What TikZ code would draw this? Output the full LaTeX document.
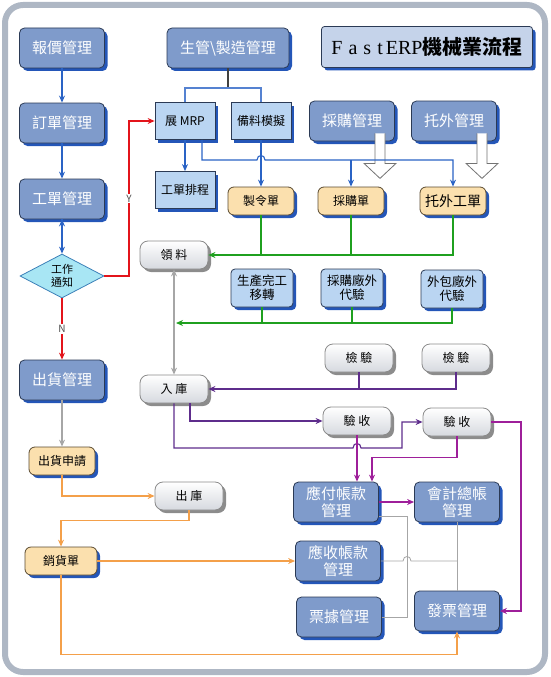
\documentclass[tikz,border=0pt]{standalone}
\usepackage{fontspec}
\setmainfont{Noto Sans CJK TC}
\newfontfamily\titlelatin{Liberation Serif}
\newfontfamily\titlespaced[LetterSpace=30]{Liberation Serif}
\usetikzlibrary{shapes.geometric,shadows,calc,arrows.meta}

\definecolor{manageblue}{HTML}{7F9BCB}
\definecolor{boxedge}{HTML}{2B3A55}
\definecolor{shadowblue}{HTML}{2456B8}
\definecolor{taskblue}{HTML}{BAD5F2}
\definecolor{docpeach}{HTML}{FBE0AE}
\definecolor{docedge}{HTML}{5A4A30}
\definecolor{storegray}{HTML}{D6D9DF}
\definecolor{storeedge}{HTML}{8A8A8A}
\definecolor{storeshadow}{HTML}{8C8C8C}
\definecolor{decidecyan}{HTML}{A8E6F4}
\definecolor{decideedge}{HTML}{3C80B8}
\definecolor{titlefill}{HTML}{C5D3EA}
\definecolor{framegray}{HTML}{AEB7C4}
\definecolor{flowblue}{HTML}{2A63C5}
\definecolor{flowred}{HTML}{E3141B}
\definecolor{flowgreen}{HTML}{1FA01F}
\definecolor{flowgray}{HTML}{A6A6A6}
\definecolor{flowpurple}{HTML}{5E2D8C}
\definecolor{flowmagenta}{HTML}{9E1F9A}
\definecolor{floworange}{HTML}{F4A04A}

\tikzstyle{manage} = [draw=boxedge,fill=manageblue,rounded corners=5pt,line width=0.8pt,minimum width=85pt,minimum height=40pt,text=white,align=center,font=\fontsize{15}{17}\selectfont,drop shadow={shadow xshift=3pt,shadow yshift=-3pt,fill=shadowblue,opacity=1}]
\tikzstyle{task} = [draw=boxedge,fill=taskblue,line width=0.8pt,minimum width=60pt,minimum height=37pt,align=center,font=\fontsize{12}{14}\selectfont,drop shadow={shadow xshift=3pt,shadow yshift=-3pt,fill=shadowblue,opacity=1}]
\tikzstyle{inspect} = [task,rounded corners=4pt,minimum width=62pt,minimum height=38pt,font=\fontsize{12.5}{14}\selectfont]
\tikzstyle{doc} = [draw=docedge,fill=docpeach,rounded corners=6pt,line width=0.8pt,minimum width=66pt,minimum height=28pt,font=\fontsize{12}{14}\selectfont,drop shadow={shadow xshift=3pt,shadow yshift=-3pt,fill=shadowblue,opacity=1}]
\tikzstyle{store} = [draw=storeedge,top color=white,bottom color=storegray,rounded corners=8pt,line width=0.8pt,minimum width=68pt,minimum height=28pt,font=\fontsize{12}{14}\selectfont,drop shadow={shadow xshift=3pt,shadow yshift=-3pt,fill=storeshadow,opacity=1}]
\tikzstyle{decide} = [diamond,draw=decideedge,fill=decidecyan,line width=0.8pt,aspect=1.9,minimum width=84pt,minimum height=44pt,inner sep=0pt,align=center,font=\fontsize{11}{13}\selectfont]
\tikzstyle{titlebox} = [draw=boxedge,fill=titlefill,rounded corners=3pt,line width=0.8pt,minimum width=211pt,minimum height=41pt,drop shadow={shadow xshift=3pt,shadow yshift=-3pt,fill=shadowblue,opacity=1}]
\tikzstyle{flow} = [draw,->,>={Stealth[length=7pt,width=6pt]},line width=1.1pt]
\tikzstyle{link} = [draw,line width=1.1pt]
\tikzstyle{thinlink} = [draw,line width=0.8pt,flowgray]
\tikzstyle{yn} = [font=\fontsize{10}{10}\selectfont,fill=white,inner sep=1pt,text=black!70]
\tikzstyle{hollow} = [draw=black!55,fill=white,line width=0.8pt]

\begin{document}
\begin{tikzpicture}[x=1pt,y=-1pt]
  \useasboundingbox (0,0) rectangle (550,677);
  %frame
  \draw[framegray,line width=6pt,rounded corners=18pt] (5,5) rectangle (545,672);

  %nodes
  \foreach \nodename/\x/\y/\txt in {
    quote/62/48/報價管理, order/62/123/訂單管理, worder/62/199/工單管理, ship/62/380/出貨管理,
    purch/352/121/採購管理, outs/454/121/托外管理,
    ap/336/502/應付帳款\\管理, gl/457/502/會計總帳\\管理, ar/338/561/應收帳款\\管理,
    note/339/617/票據管理, inv/457/611/發票管理}
  {
    \node[manage] (\nodename) at (\x,\y) {\txt};
  };
  \node[manage,minimum width=122pt] (prod) at (228,48) {生管\textbackslash 製造管理};
  \node[titlebox] (title) at (427,47) {\fontsize{20}{22}\selectfont{\titlespaced Fast}\hspace{3pt}{\titlelatin ERP}{\bfseries 機械業流程}};
  \node[decide] (notice) at (62,276) {工作\\通知};

  \foreach \nodename/\x/\y/\txt in {mrp/185/121/展 MRP, prep/261/121/備料模擬, sched/185/190/工單排程}
  {
    \node[task] (\nodename) at (\x,\y) {\txt};
  };
  \foreach \nodename/\x/\y/\txt in {fin/262/288/生產完工\\移轉, pinsp/352/288/採購廠外\\代驗, oinsp/452/289/外包廠外\\代驗}
  {
    \node[inspect] (\nodename) at (\x,\y) {\txt};
  };
  \foreach \nodename/\x/\y/\txt in {mo/261/201/製令單, po/351/201/採購單, shipreq/62/461/出貨申請}
  {
    \node[doc] (\nodename) at (\x,\y) {\txt};
  };
  \node[doc,font=\fontsize{14}{16}\selectfont] (oo) at (453,201) {托外工單};
  \node[doc,minimum width=72pt] (sales) at (61,561) {銷貨單};
  \foreach \nodename/\x/\y/\txt in {
    pick/174/255/領 料, stock/174/389/入 庫, chk1/359/358/檢 驗, chk2/456/358/檢 驗,
    acc1/357/421/驗 收, acc2/457/422/驗 收, outstock/189/496/出 庫}
  {
    \node[store] (\nodename) at (\x,\y) {\txt};
  };

  %hollow arrows
  \foreach \src in {purch, outs}
  {
    \draw[hollow,shift={(\src.south)}] (23,-8) -- (23,22) -- (12,22) -- (28,37) -- (44,22) -- (33,22) -- (33,-8);
  };

  \coordinate (forkbus) at (0,88);
  \coordinate (mrpbus) at (0,160);
  \coordinate (ybend) at (129,121);
  \coordinate (greenend) at (176,323);
  \coordinate (lowbus) at (402,448);
  \coordinate (rightbus) at (521,0);
  \coordinate (grayturn) at (407,516);

  %edges
  \path[flow,flowblue] (quote.south) edge (order.north) (order.south) edge (worder.north) (worder.south) edge (notice.north);
  \draw[flow,flowred] (notice.east) -| node[pos=0.75,yn] {Y} (ybend) -- (mrp.west);
  \draw[flow,flowred] (notice.south) -- node[yn] {N} (ship.north);
  \draw[flow,flowgray] (ship.south) -- (shipreq.north);

  \draw[link,black!75] (prod.south) -- (prod.south |- forkbus);
  \draw[link,flowblue!80] (mrp.north) |- (prep.north |- forkbus) -- (prep.north);
  \draw[flow,flowblue] (mrp.south) -- (sched.north);
  \draw[flow,flowblue] (prep.south) -- (mo.north);
  \draw[flow,flowblue] ([xshift=17pt]mrp.south) |- ($(prep.south |- mrpbus)+(-4,0)$)
    .. controls +(0,-6) and +(0,-6) .. ($(prep.south |- mrpbus)+(4,0)$) -| (oo.north);
  \draw[flow,flowblue] (po.north |- mrpbus) -- (po.north);

  \draw[flow,flowgreen] (oo.south) |- (pick.east);
  \path[link,flowgreen] (mo.south) edge (mo.south |- pick.east) (po.south) edge (po.south |- pick.east);
  \draw[flow,flowgreen] (oinsp.south) |- (greenend);
  \path[link,flowgreen] (fin.south) edge (fin.south |- greenend) (pinsp.south) edge (pinsp.south |- greenend);
  \draw[flow,<->,flowgray] (pick.south) -- (stock.north);

  \draw[flow,flowpurple] (chk2.south) |- (stock.east);
  \draw[link,flowpurple] (chk1.south) -- (chk1.south |- stock.east);
  \draw[flow,flowpurple] ([xshift=16pt]stock.south) |- (acc1.west);
  \draw[flow,flowpurple] (stock.south) |- ($(acc1.south |- lowbus)+(-4,0)$)
    .. controls +(0,-6) and +(0,-6) .. ($(acc1.south |- lowbus)+(4,0)$) -- (lowbus) |- (acc2.west);
  \draw[flow,flowmagenta] (acc1.south) -- (acc1.south |- ap.north);
  \draw[flow,flowmagenta] (acc2.south) -- ++(0,21) -| ([xshift=36pt]ap.north);
  \draw[flow,flowmagenta] (acc2.east) -- (acc2.east -| rightbus) |- (inv.east);
  \draw[flow,flowmagenta] (ap.east) -- (gl.west);

  \draw[thinlink] ([yshift=-14pt]ap.east) -- (grayturn) -- (grayturn |- note.east) -- (note.east);
  \draw[thinlink] (ar.east) -- ($(grayturn |- ar.east)+(-4,0)$)
    .. controls +(0,-6) and +(0,-6) .. ($(grayturn |- ar.east)+(4,0)$) -- (gl.south |- ar.east);
  \draw[thinlink] (gl.south) -- (inv.north);

  \draw[flow,floworange] (shipreq.south) |- (outstock.west);
  \draw[flow,floworange] (outstock.south) -- ++(0,10) -| (sales.north);
  \draw[flow,floworange] (sales.east) -- (ar.west);
  \draw[flow,floworange] (sales.south) -- ++(0,79) -| (inv.south);
\end{tikzpicture}
\end{document}
